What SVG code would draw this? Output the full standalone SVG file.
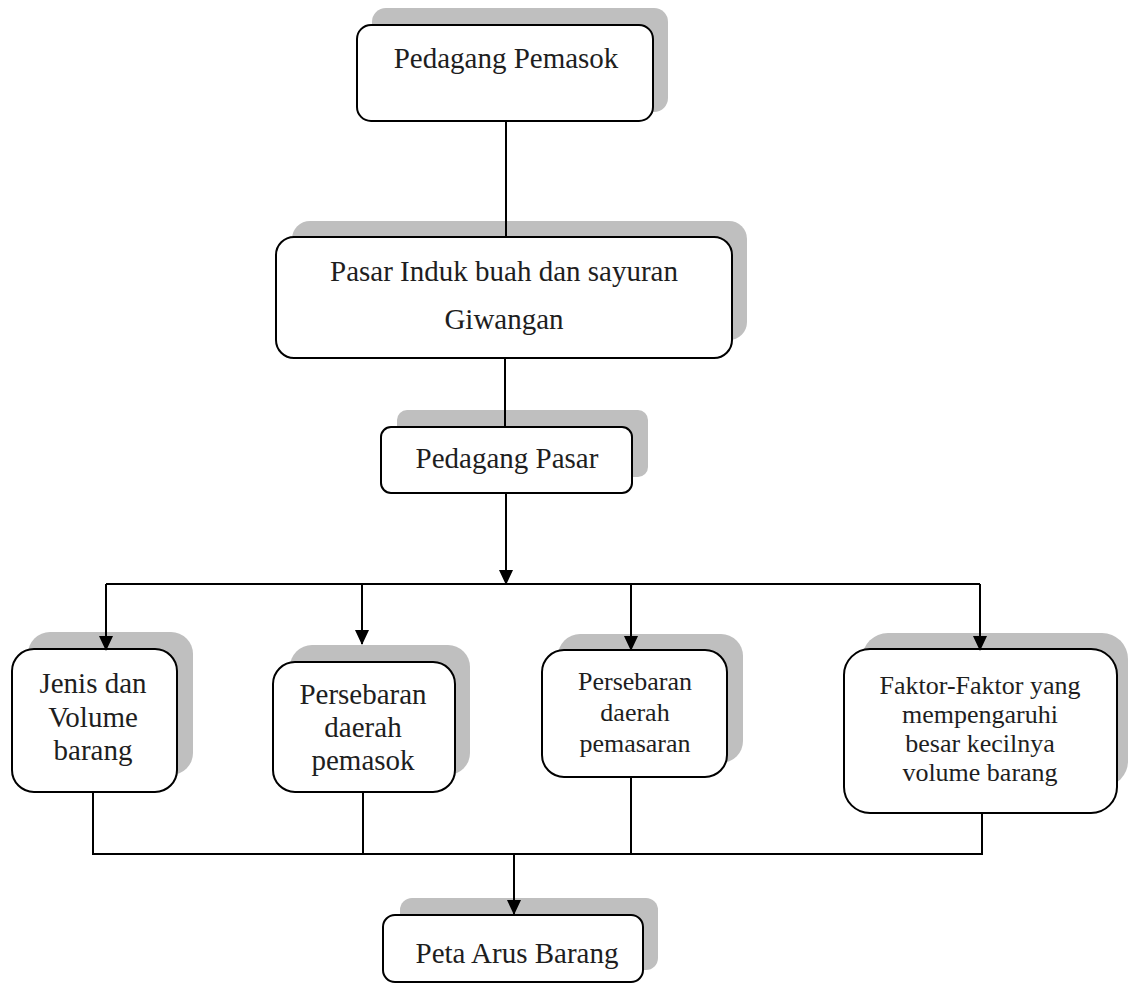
<svg xmlns="http://www.w3.org/2000/svg" width="1137" height="984" viewBox="0 0 1137 984">
<style>
.sh{fill:#bfbfbf;stroke:none}
.bx{fill:#ffffff;stroke:#000;stroke-width:2}
.t{font-family:'Liberation Serif','DejaVu Serif',serif;font-size:29px;fill:#1e1e1e;text-anchor:middle}
.ts{font-size:26px}
.ln{fill:none;stroke:#000;stroke-width:2}
</style>
<defs>
<marker id="ah" markerUnits="userSpaceOnUse" markerWidth="16" markerHeight="16" viewBox="0 0 16 16" refX="14" refY="8" orient="auto">
<path d="M0,1 L15,8 L0,15 Z" fill="#000"/>
</marker>
</defs>
<rect width="1137" height="984" fill="#fff"/>

<g id="node-pedagang-pemasok">
<rect class="sh" x="372" y="8" width="296" height="104" rx="14"/>
<rect class="bx" x="357" y="25" width="296" height="96" rx="14"/>
<text class="t" x="506" y="68">Pedagang Pemasok</text>
</g>

<g id="node-pasar-induk">
<rect class="sh" x="292" y="221" width="455" height="119" rx="18"/>
<rect class="bx" x="276" y="237" width="456" height="121" rx="18"/>
<text class="t" x="504" y="281">Pasar Induk buah dan sayuran</text>
<text class="t" x="504" y="329">Giwangan</text>
</g>

<g id="node-pedagang-pasar">
<rect class="sh" x="397" y="410" width="251" height="67" rx="10"/>
<rect class="bx" x="381" y="427" width="251" height="66" rx="10"/>
<text class="t" x="507" y="468">Pedagang Pasar</text>
</g>

<g id="node-jenis-volume">
<rect class="sh" x="28" y="632" width="165" height="143" rx="22"/>
<rect class="bx" x="12" y="649" width="165" height="143" rx="22"/>
<text class="t" x="93" y="693">Jenis dan</text>
<text class="t" x="93" y="727">Volume</text>
<text class="t" x="93" y="760">barang</text>
</g>

<g id="node-persebaran-pemasok">
<rect class="sh" x="290" y="645" width="180" height="130" rx="22"/>
<rect class="bx" x="273" y="662" width="182" height="130" rx="22"/>
<text class="t" x="363" y="704">Persebaran</text>
<text class="t" x="363" y="737">daerah</text>
<text class="t" x="363" y="770">pemasok</text>
</g>

<g id="node-persebaran-pemasaran">
<rect class="sh" x="558" y="634" width="185" height="129" rx="22"/>
<rect class="bx" x="542" y="650" width="185" height="127" rx="22"/>
<text class="t ts" x="635" y="690">Persebaran</text>
<text class="t ts" x="635" y="721">daerah</text>
<text class="t ts" x="635" y="752">pemasaran</text>
</g>

<g id="node-faktor">
<rect class="sh" x="862" y="633" width="266" height="154" rx="26"/>
<rect class="bx" x="844" y="649" width="273" height="164" rx="26"/>
<text class="t ts" x="980" y="694">Faktor-Faktor yang</text>
<text class="t ts" x="980" y="723">mempengaruhi</text>
<text class="t ts" x="980" y="752">besar kecilnya</text>
<text class="t ts" x="980" y="781">volume barang</text>
</g>

<g id="node-peta-arus">
<rect class="sh" x="400" y="898" width="258" height="72" rx="12"/>
<rect class="bx" x="383" y="915" width="260" height="67" rx="12"/>
<text class="t" x="517" y="963">Peta Arus Barang</text>
</g>

<g id="connectors">
<line class="ln" x1="506" y1="121" x2="506" y2="237"/>
<line class="ln" x1="505" y1="358" x2="505" y2="427"/>
<line class="ln" x1="506" y1="493" x2="506" y2="584" marker-end="url(#ah)"/>
<line class="ln" x1="106" y1="584" x2="980" y2="584"/>
<line class="ln" x1="106" y1="584" x2="106" y2="650" marker-end="url(#ah)"/>
<line class="ln" x1="362" y1="584" x2="362" y2="644" marker-end="url(#ah)"/>
<line class="ln" x1="631" y1="584" x2="631" y2="650" marker-end="url(#ah)"/>
<line class="ln" x1="980" y1="584" x2="980" y2="650" marker-end="url(#ah)"/>
<line class="ln" x1="93" y1="792" x2="93" y2="854"/>
<line class="ln" x1="363" y1="792" x2="363" y2="854"/>
<line class="ln" x1="631" y1="777" x2="631" y2="854"/>
<line class="ln" x1="982" y1="813" x2="982" y2="854"/>
<line class="ln" x1="92" y1="854" x2="983" y2="854"/>
<line class="ln" x1="514" y1="854" x2="514" y2="914" marker-end="url(#ah)"/>
</g>
</svg>
